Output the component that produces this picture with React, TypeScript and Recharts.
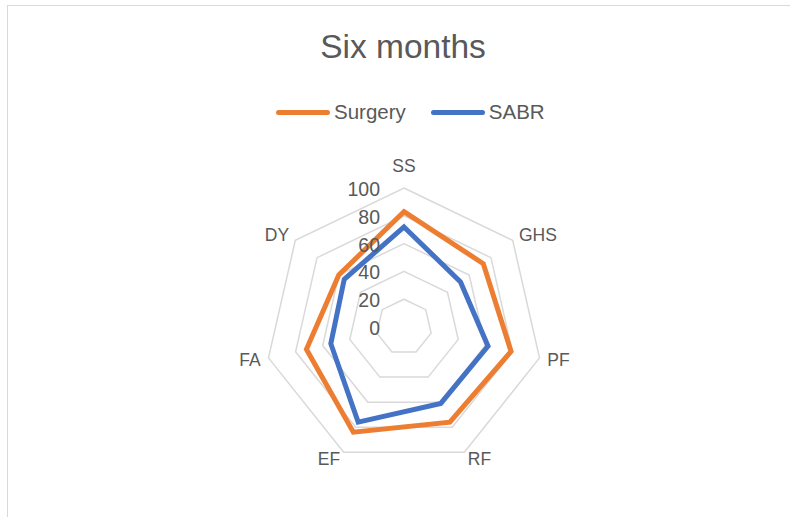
import React from 'react';
import { RadarChart, Radar, PolarGrid, PolarAngleAxis, PolarRadiusAxis } from 'recharts';

const domains = ['SS', 'GHS', 'PF', 'RF', 'EF', 'FA', 'DY'];
const surgery = [83, 73, 79, 76, 84, 72, 60];
const sabr = [72, 52, 62, 61, 76, 54, 55];
const radiusTicks = [0, 20, 40, 60, 80, 100];

const TEXT = '#595959';
const FONT = '"Liberation Sans", Arial, sans-serif';
const ORANGE = '#ED7D31';
const BLUE = '#4472C4';

const data = domains.map((d, i) => ({ domain: d, Surgery: surgery[i], SABR: sabr[i] }));

const AngleTick = (props: any) => {
  const { x, y, payload, textAnchor } = props;
  const dy = textAnchor === 'middle' && y < 300 ? -14 : 0;
  return (
    <text x={x} y={y + dy} textAnchor={textAnchor} dominantBaseline="central" fill={TEXT} fontSize={17.5} fontFamily={FONT}>
      {payload.value}
    </text>
  );
};

const RadiusTick = (props: any) => {
  const { x, y, payload } = props;
  return (
    <text x={x - 24} y={y + 1} textAnchor="end" dominantBaseline="central" fill={TEXT} fontSize={19.5} fontFamily={FONT}>
      {payload.value}
    </text>
  );
};

const LegendItem = ({ color, label }: { color: string; label: string }) => (
  <div style={{ display: 'flex', alignItems: 'center', marginRight: 25 }}>
    <div style={{ width: 54, height: 5, borderRadius: 3, background: color, marginRight: 4 }} />
    <span>{label}</span>
  </div>
);

const App: React.FC = () => {
  return (
    <div style={{ position: 'absolute', left: 0, top: 0, width: 790, height: 517, overflow: 'hidden', background: '#fff', fontFamily: FONT, color: TEXT }}>
      <div style={{ position: 'absolute', left: 7, top: 5, width: 820, height: 540, border: '1px solid #d9d9d9' }} />
      <div style={{ position: 'absolute', left: 0, top: 28, width: 806, textAlign: 'center', fontSize: 33.5 }}>Six months</div>
      <div style={{ position: 'absolute', left: 276, top: 100, display: 'flex', fontSize: 20.5 }}>
        <LegendItem color={ORANGE} label="Surgery" />
        <LegendItem color={BLUE} label="SABR" />
      </div>
      <div style={{ position: 'absolute', left: 0, top: 0 }}>
        <RadarChart width={790} height={517} data={data} cx={404} cy={327} outerRadius={139} margin={{ top: 0, right: 0, bottom: 0, left: 0 }}>
          <PolarGrid gridType="polygon" radialLines={false} stroke="#d9d9d9" strokeWidth={1.5} />
          <PolarAngleAxis dataKey="domain" tick={<AngleTick />} tickLine={false} axisLine={false} />
          <PolarRadiusAxis angle={90} domain={[0, 100]} ticks={radiusTicks as any} tickCount={6} axisLine={false} tick={<RadiusTick />} />
          <Radar name="Surgery" dataKey="Surgery" stroke={ORANGE} strokeWidth={5} fill="none" fillOpacity={0} isAnimationActive={false} />
          <Radar name="SABR" dataKey="SABR" stroke={BLUE} strokeWidth={5} fill="none" fillOpacity={0} isAnimationActive={false} />
        </RadarChart>
      </div>
    </div>
  );
};

export default App;
